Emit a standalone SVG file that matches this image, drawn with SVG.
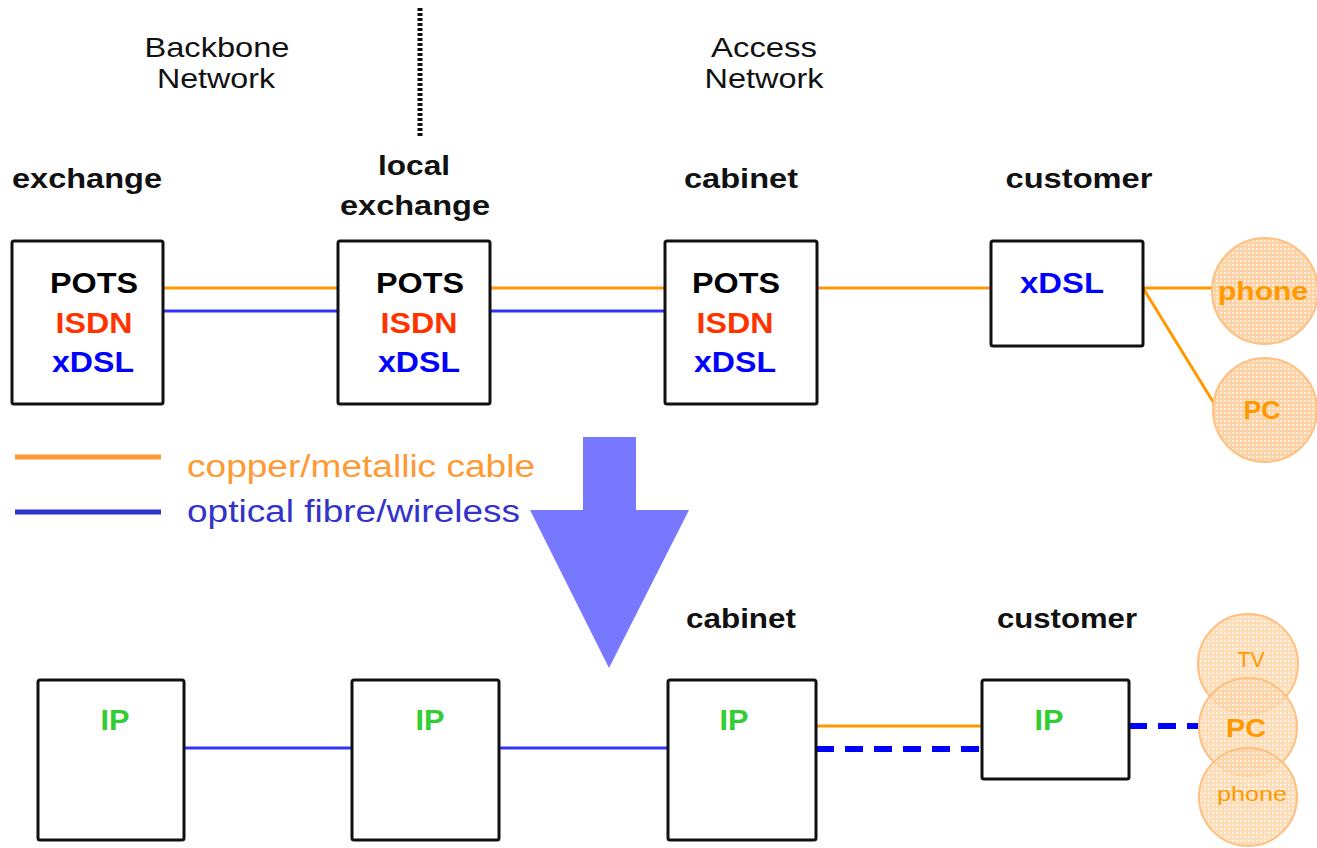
<svg xmlns="http://www.w3.org/2000/svg" width="1317" height="848" viewBox="0 0 1317 848">
<style>
.box{fill:#fff;stroke:#111;stroke-width:3}
.lbl{font-family:"Liberation Sans",Arial,sans-serif;font-weight:bold;font-size:28px;fill:#111;text-anchor:middle}
.reg{font-family:"Liberation Sans",Arial,sans-serif;font-size:28px;fill:#111;text-anchor:middle}
.t{font-family:"Liberation Sans",Arial,sans-serif;font-weight:bold;font-size:29px;text-anchor:middle}
.pots{fill:#000}.isdn{fill:#ff3300}.xdsl{fill:#0000ff}.ip{fill:#33cc33}
.cu{stroke:#ff9900;stroke-width:3;fill:none}
.fi{stroke:#3333ff;stroke-width:3;fill:none}
.dash{stroke:#0000ff;stroke-width:6;stroke-dasharray:18 11;fill:none}
.dev{fill:url(#grid);stroke:#ffbf80;stroke-width:2}
.dt{font-family:"Liberation Sans",Arial,sans-serif;fill:#ff9900;text-anchor:middle}
</style>
<defs>
<pattern id="grid" width="4" height="4" patternUnits="userSpaceOnUse">
<rect width="4" height="4" fill="#fcd3a6"/>
<rect x="0" y="0" width="2" height="2" fill="#fff" fill-opacity="0.6"/>
</pattern>
</defs>
<rect width="1317" height="848" fill="#fff"/>

<text class="reg" x="217" y="57" textLength="145" lengthAdjust="spacingAndGlyphs">Backbone</text>
<text class="reg" x="216" y="88" textLength="118" lengthAdjust="spacingAndGlyphs">Network</text>
<text class="reg" x="764" y="57" textLength="106" lengthAdjust="spacingAndGlyphs">Access</text>
<text class="reg" x="764" y="88" textLength="119" lengthAdjust="spacingAndGlyphs">Network</text>
<line x1="420" y1="8" x2="420" y2="136" stroke="#111" stroke-width="5" stroke-dasharray="3 2"/>

<text class="lbl" x="87" y="188" textLength="150" lengthAdjust="spacingAndGlyphs">exchange</text>
<text class="lbl" x="414" y="175" textLength="72" lengthAdjust="spacingAndGlyphs">local</text>
<text class="lbl" x="415" y="215" textLength="150" lengthAdjust="spacingAndGlyphs">exchange</text>
<text class="lbl" x="741" y="188" textLength="114" lengthAdjust="spacingAndGlyphs">cabinet</text>
<text class="lbl" x="1079" y="188" textLength="147" lengthAdjust="spacingAndGlyphs">customer</text>

<g id="connectors">
<line class="cu" x1="163" y1="288" x2="338" y2="288"/>
<line class="fi" x1="163" y1="311" x2="338" y2="311"/>
<line class="cu" x1="490" y1="288" x2="665" y2="288"/>
<line class="fi" x1="490" y1="311" x2="665" y2="311"/>
<line class="cu" x1="817" y1="288" x2="991" y2="288"/>
<line class="cu" x1="1143" y1="288" x2="1213" y2="288"/>
<line class="cu" x1="1143" y1="288" x2="1215" y2="405"/>
<line class="fi" x1="184" y1="748" x2="352" y2="748"/>
<line class="fi" x1="499" y1="748" x2="668" y2="748"/>
<line class="cu" x1="816" y1="726" x2="982" y2="726"/>
<line class="dash" x1="816" y1="749" x2="982" y2="749"/>
<line class="dash" x1="1129" y1="726" x2="1198" y2="726"/>
</g>

<g id="exchange">
<rect class="box" x="12" y="241" width="151" height="163" rx="2"/>
<text class="t pots" x="94" y="293" textLength="88" lengthAdjust="spacingAndGlyphs">POTS</text>
<text class="t isdn" x="94" y="333" textLength="77" lengthAdjust="spacingAndGlyphs">ISDN</text>
<text class="t xdsl" x="93" y="372" textLength="82" lengthAdjust="spacingAndGlyphs">xDSL</text>
</g>
<g id="local-exchange">
<rect class="box" x="338" y="241" width="152" height="163" rx="2"/>
<text class="t pots" x="420" y="293" textLength="88" lengthAdjust="spacingAndGlyphs">POTS</text>
<text class="t isdn" x="419" y="333" textLength="77" lengthAdjust="spacingAndGlyphs">ISDN</text>
<text class="t xdsl" x="419" y="372" textLength="82" lengthAdjust="spacingAndGlyphs">xDSL</text>
</g>
<g id="cabinet">
<rect class="box" x="665" y="241" width="152" height="163" rx="2"/>
<text class="t pots" x="736" y="293" textLength="88" lengthAdjust="spacingAndGlyphs">POTS</text>
<text class="t isdn" x="735" y="333" textLength="77" lengthAdjust="spacingAndGlyphs">ISDN</text>
<text class="t xdsl" x="735" y="372" textLength="82" lengthAdjust="spacingAndGlyphs">xDSL</text>
</g>
<g id="customer">
<rect class="box" x="991" y="241" width="152" height="105" rx="2"/>
<text class="t xdsl" x="1062" y="293" textLength="84" lengthAdjust="spacingAndGlyphs">xDSL</text>
</g>
<g id="phone">
<circle class="dev" cx="1265" cy="291" r="53"/>
<text class="dt" x="1263" y="300" font-size="26" font-weight="bold" textLength="90" lengthAdjust="spacingAndGlyphs">phone</text>
</g>
<g id="pc">
<circle class="dev" cx="1265" cy="410" r="52"/>
<text class="dt" x="1262" y="419" font-size="26" font-weight="bold" textLength="37" lengthAdjust="spacingAndGlyphs">PC</text>
</g>

<g id="legend">
<line x1="15" y1="457" x2="161" y2="457" stroke="#ff9933" stroke-width="5"/>
<text x="187" y="477" font-family="Liberation Sans,Arial,sans-serif" font-size="31" fill="#ff9933" textLength="348" lengthAdjust="spacingAndGlyphs">copper/metallic cable</text>
<line x1="15" y1="512" x2="161" y2="512" stroke="#3333cc" stroke-width="5"/>
<text x="187" y="522" font-family="Liberation Sans,Arial,sans-serif" font-size="31" fill="#3333cc" textLength="333" lengthAdjust="spacingAndGlyphs">optical fibre/wireless</text>
</g>

<g id="arrow">
<polygon points="583,437 636,437 636,510 689,510 609,668 530,510 583,510" fill="#7878ff"/>
</g>

<text class="lbl" x="741" y="628" textLength="110" lengthAdjust="spacingAndGlyphs">cabinet</text>
<text class="lbl" x="1067" y="628" textLength="140" lengthAdjust="spacingAndGlyphs">customer</text>

<g id="ip1">
<rect class="box" x="38" y="680" width="146" height="160" rx="2"/>
<text class="t ip" x="115" y="730" textLength="29" lengthAdjust="spacingAndGlyphs">IP</text>
</g>
<g id="ip2">
<rect class="box" x="352" y="680" width="147" height="160" rx="2"/>
<text class="t ip" x="430" y="730" textLength="29" lengthAdjust="spacingAndGlyphs">IP</text>
</g>
<g id="ip3">
<rect class="box" x="668" y="680" width="148" height="160" rx="2"/>
<text class="t ip" x="734" y="730" textLength="29" lengthAdjust="spacingAndGlyphs">IP</text>
</g>
<g id="ip4">
<rect class="box" x="982" y="680" width="147" height="99" rx="2"/>
<text class="t ip" x="1049" y="730" textLength="29" lengthAdjust="spacingAndGlyphs">IP</text>
</g>
<g id="tv">
<circle class="dev" cx="1248" cy="664" r="50" fill-opacity="0.8"/>
<text class="dt" x="1251" y="667" font-size="22" textLength="27" lengthAdjust="spacingAndGlyphs">TV</text>
</g>
<g id="pc2">
<circle class="dev" cx="1248" cy="727" r="49" fill-opacity="0.8"/>
<text class="dt" x="1246" y="737" font-size="26" font-weight="bold" textLength="40" lengthAdjust="spacingAndGlyphs">PC</text>
</g>
<g id="phone2">
<circle class="dev" cx="1248" cy="797" r="49" fill-opacity="0.8"/>
<text class="dt" x="1252" y="801" font-size="20" textLength="70" lengthAdjust="spacingAndGlyphs">phone</text>
</g>
</svg>
